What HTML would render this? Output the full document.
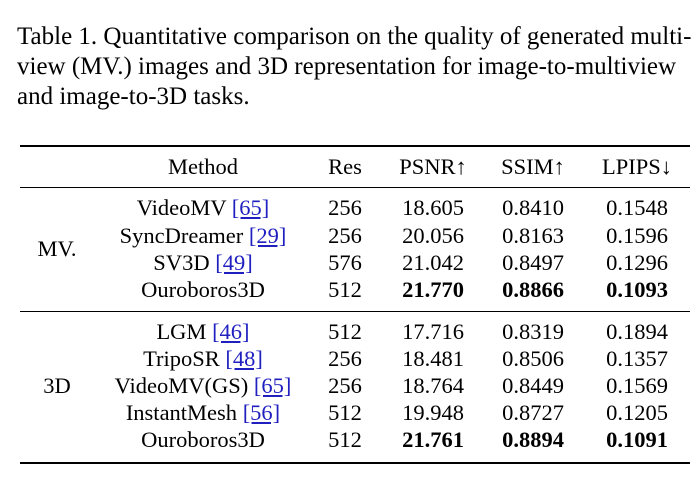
<!DOCTYPE html>
<html><head><style>
body{margin:0;width:700px;height:479px;background:#fff;font-family:"Liberation Serif","Times New Roman",serif;color:#000;position:relative;overflow:hidden}
.cap{position:absolute;left:17px;top:22px;font-size:25px;line-height:30px;white-space:nowrap}
.rule{position:absolute;left:20px;width:670px;background:#000}
.row{position:absolute;left:0;width:700px;height:26px;font-size:22.5px;line-height:26px}
.row span{position:absolute;text-align:center;white-space:nowrap;transform:translateX(-50%)}
.c1{left:203px}.c2{left:345px}.c3{left:433px}.c4{left:533px}.c5{left:637px}
a{color:#2020c0;text-decoration:underline;text-decoration-color:#2020c0}
.g{position:absolute;font-size:22.5px;transform:translate(-50%,-50%)}
</style></head><body>
<div class="cap">Table 1. Quantitative comparison on the quality of generated multi-<br>view (MV.) images and 3D representation for image-to-multiview<br>and image-to-3D tasks.</div>
<div class="rule" style="top:145px;height:2px"></div>
<div class="rule" style="top:187px;height:1.3px"></div>
<div class="rule" style="top:311px;height:1.3px"></div>
<div class="rule" style="top:462px;height:2px"></div>
<div class="row" style="top:154px"><span class="c1">Method</span><span class="c2">Res</span><span class="c3">PSNR↑</span><span class="c4">SSIM↑</span><span class="c5">LPIPS↓</span></div>
<div class="g" style="left:57px;top:249px">MV.</div>
<div class="g" style="left:57px;top:386px">3D</div>
<div class="row" style="top:195px"><span class="c1">VideoMV <a>[65]</a></span><span class="c2">256</span><span class="c3">18.605</span><span class="c4">0.8410</span><span class="c5">0.1548</span></div>
<div class="row" style="top:223px"><span class="c1">SyncDreamer <a>[29]</a></span><span class="c2">256</span><span class="c3">20.056</span><span class="c4">0.8163</span><span class="c5">0.1596</span></div>
<div class="row" style="top:250px"><span class="c1">SV3D <a>[49]</a></span><span class="c2">576</span><span class="c3">21.042</span><span class="c4">0.8497</span><span class="c5">0.1296</span></div>
<div class="row" style="top:277px"><span class="c1">Ouroboros3D</span><span class="c2">512</span><span class="c3"><b>21.770</b></span><span class="c4"><b>0.8866</b></span><span class="c5"><b>0.1093</b></span></div>
<div class="row" style="top:319px"><span class="c1">LGM <a>[46]</a></span><span class="c2">512</span><span class="c3">17.716</span><span class="c4">0.8319</span><span class="c5">0.1894</span></div>
<div class="row" style="top:346px"><span class="c1">TripoSR <a>[48]</a></span><span class="c2">256</span><span class="c3">18.481</span><span class="c4">0.8506</span><span class="c5">0.1357</span></div>
<div class="row" style="top:373px"><span class="c1">VideoMV(GS) <a>[65]</a></span><span class="c2">256</span><span class="c3">18.764</span><span class="c4">0.8449</span><span class="c5">0.1569</span></div>
<div class="row" style="top:400px"><span class="c1">InstantMesh <a>[56]</a></span><span class="c2">512</span><span class="c3">19.948</span><span class="c4">0.8727</span><span class="c5">0.1205</span></div>
<div class="row" style="top:427px"><span class="c1">Ouroboros3D</span><span class="c2">512</span><span class="c3"><b>21.761</b></span><span class="c4"><b>0.8894</b></span><span class="c5"><b>0.1091</b></span></div>
</body></html>
